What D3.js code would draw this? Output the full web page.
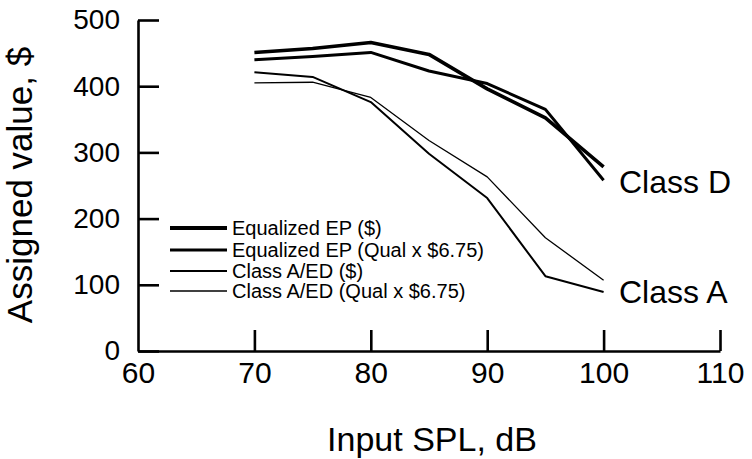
<!DOCTYPE html>
<html>
<head>
<meta charset="utf-8">
<script src="https://cdn.jsdelivr.net/npm/d3@7/dist/d3.min.js"></script>
<style>
    html, body { margin: 0; padding: 0; background: #fff; }
    svg { display: block; font-family: "Liberation Sans", Arial, Helvetica, sans-serif; }
</style>
</head>
<body>
<svg id="chart" width="752" height="459"></svg>
<script>
// 数据
var splLevels = [70, 75, 80, 85, 90, 95, 100];
var eqEpDollar = [451, 457, 466, 448, 396, 352, 278];
var eqEpQual = [440, 445, 451, 423, 404, 365, 258];
var classADollar = [421, 414, 376, 298, 231, 113, 89];
var classAQual = [405, 406, 383, 318, 263, 171, 107];

var seriesNames = ["Equalized EP ($)", "Equalized EP (Qual x $6.75)", "Class A/ED ($)", "Class A/ED (Qual x $6.75)"];
var xTicks = [60, 70, 80, 90, 100, 110];
var yTicks = [0, 100, 200, 300, 400, 500];
var classLabels = ["Class D", "Class A"];

;(function (win) {

    "use strict";

    // 配置
    var _config = {
        svgSelector: '#chart',
        xRange: [138, 720],
        yRange: [351, 20],
        strokes: [3.6, 3, 2, 1.3]
    };

    var _tool = {
        // 组装数据
        buildSeries: function () {
            var values = [eqEpDollar, eqEpQual, classADollar, classAQual];
            return seriesNames.map(function (name, i) {
                return {
                    name: name,
                    width: _config.strokes[i],
                    points: splLevels.map(function (db, j) {
                        return {db: db, v: values[i][j]};
                    })
                };
            });
        },

        drawSVGPic: function () {
            var svg = d3.select(_config.svgSelector);

            var x = d3.scaleLinear().domain([60, 110]).range(_config.xRange);
            var y = d3.scaleLinear().domain([0, 500]).range(_config.yRange);

            // y轴
            var yAxis = svg.append('g')
                .attr('transform', 'translate(' + _config.xRange[0] + ',0)')
                .call(d3.axisLeft(y).tickValues(yTicks).tickSizeInner(-21).tickSizeOuter(0).tickPadding(18));

            // x轴
            var xAxis = svg.append('g')
                .attr('transform', 'translate(0,' + _config.yRange[0] + ')')
                .call(d3.axisBottom(x).tickValues(xTicks).tickSizeInner(-21).tickSizeOuter(0).tickPadding(11));

            [yAxis, xAxis].forEach(function (ax) {
                ax.select('.domain').attr('stroke', '#000').attr('stroke-width', 2.6);
                ax.selectAll('.tick line').attr('stroke', '#000').attr('stroke-width', 2.6);
                ax.selectAll('.tick text').attr('fill', '#000')
                    .style('font-family', '"Liberation Sans", Arial, sans-serif');
            });
            yAxis.selectAll('.tick text').style('font-size', '28px');
            xAxis.selectAll('.tick text').style('font-size', '30px');
            // 60 处刻度与y轴重合
            xAxis.selectAll('.tick').filter(function (d) { return d === 60; }).select('line').remove();

            // 坐标轴标题
            svg.append('text')
                .attr('transform', 'translate(32,185) rotate(-90)')
                .attr('text-anchor', 'middle')
                .style('font-size', '35px')
                .text('Assigned value, $');

            svg.append('text')
                .attr('x', 432)
                .attr('y', 451)
                .attr('text-anchor', 'middle')
                .style('font-size', '34px')
                .text('Input SPL, dB');

            // 折线
            var line = d3.line()
                .x(function (d) { return x(d.db); })
                .y(function (d) { return y(d.v); });

            var series = _tool.buildSeries();

            svg.append('g')
                .selectAll('path')
                .data(series)
                .enter()
                .append('path')
                .attr('d', function (d) { return line(d.points); })
                .attr('fill', 'none')
                .attr('stroke', '#000')
                .attr('stroke-linejoin', 'round')
                .attr('stroke-width', function (d) { return d.width; });

            // 类别标注
            svg.append('text')
                .attr('x', 619).attr('y', 193)
                .style('font-size', '32px')
                .text(classLabels[0]);
            svg.append('text')
                .attr('x', 619).attr('y', 303)
                .style('font-size', '32px')
                .text(classLabels[1]);

            // 图例
            var legend = svg.append('g').attr('class', 'legend');
            var rowY = [228, 250, 271, 291];
            series.forEach(function (s, i) {
                legend.append('line')
                    .attr('x1', 170).attr('x2', 227)
                    .attr('y1', rowY[i]).attr('y2', rowY[i])
                    .attr('stroke', '#000')
                    .attr('stroke-width', i === 0 ? 4.2 : s.width);
                legend.append('text')
                    .attr('x', 232).attr('y', rowY[i])
                    .attr('dy', '0.36em')
                    .style('font-size', '20px')
                    .text(s.name);
            });
        }
    };

    _tool.drawSVGPic();

})(window);
</script>
</body>
</html>
